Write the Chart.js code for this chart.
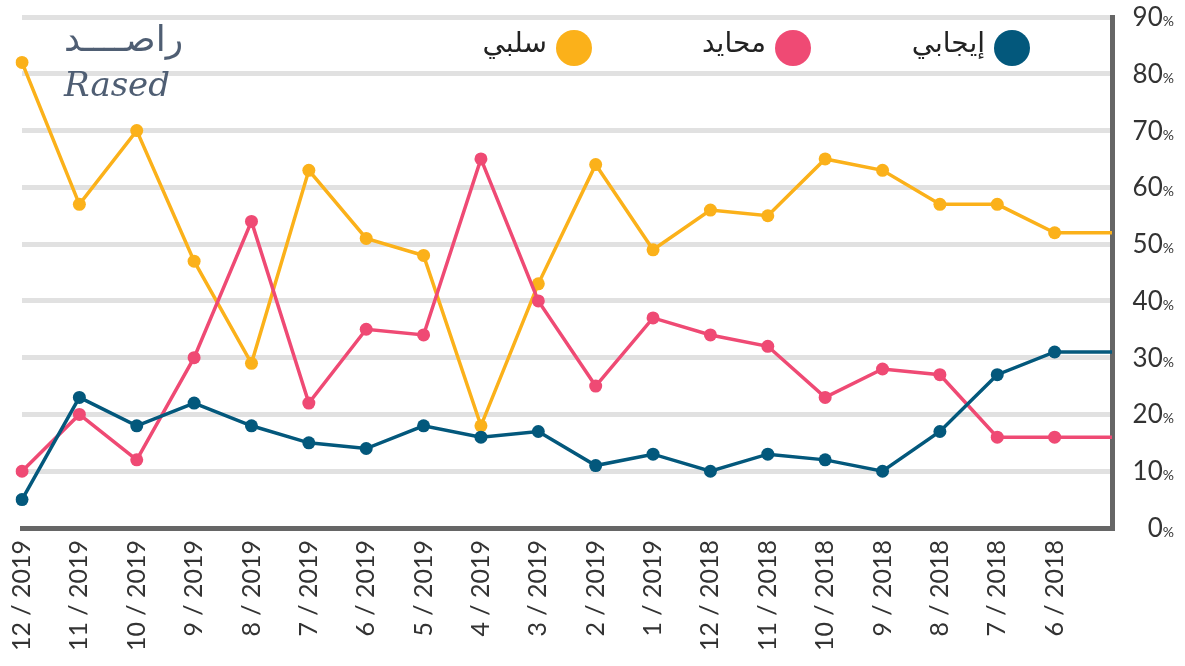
<!DOCTYPE html>
<html>
<head>
<meta charset="utf-8">
<script src="https://cdn.jsdelivr.net/npm/chart.js@4"></script>
<style>
  html, body { margin: 0; padding: 0; background: #fff; }
</style>
</head>
<body>
<canvas id="myChart" width="1185" height="666"></canvas>
<script>
// Data

const months = ["12 / 2019", "11 / 2019", "10 / 2019", "9 / 2019", "8 / 2019", "7 / 2019", "6 / 2019", "5 / 2019", "4 / 2019", "3 / 2019", "2 / 2019", "1 / 2019", "12 / 2018", "11 / 2018", "10 / 2018", "9 / 2018", "8 / 2018", "7 / 2018", "6 / 2018", ""];
const positive = [5, 23, 18, 22, 18, 15, 14, 18, 16, 17, 11, 13, 10, 13, 12, 10, 17, 27, 31, 31];
const neutral = [10, 20, 12, 30, 54, 22, 35, 34, 65, 40, 25, 37, 34, 32, 23, 28, 27, 16, 16, 16];
const negative = [82, 57, 70, 47, 29, 63, 51, 48, 18, 43, 64, 49, 56, 55, 65, 63, 57, 57, 52, 52];
const seriesNames = ["إيجابي", "محايد", "سلبي"];
const seriesColors = ["#03587C", "#EF4A74", "#FBB11A"];
const yTicks = [0, 10, 20, 30, 40, 50, 60, 70, 80, 90];

// last category only carries the line to the axis, no dot
const radii = months.map((m) => (m === "" ? 0 : 6.5));

const makeSet = (i, values) => ({
  label: seriesNames[i],
  data: values,
  borderColor: seriesColors[i],
  backgroundColor: seriesColors[i],
  borderWidth: 3.5,
  pointRadius: radii,
  pointHoverRadius: radii,
  pointBorderWidth: 0,
  tension: 0,
});

// Extra drawing: y labels with small %, legend, logo

const extras = {
  id: "extras",
  afterDraw(chart) {
    const ctx = chart.ctx;
    const yScale = chart.scales.y;
    ctx.save();

    // y tick labels
    ctx.fillStyle = "#333";
    ctx.textBaseline = "alphabetic";
    ctx.textAlign = "right";
    yTicks.forEach((v) => {
      const y = yScale.getPixelForValue(v) + 9;
      ctx.font = "14px Lato";
      const pw = ctx.measureText("%").width;
      ctx.fillText("%", 1174, y);
      ctx.font = "26px Lato";
      ctx.fillText(String(v), 1174 - pw, y);
    });

    // legend
    const legendX = [1012, 793, 574];
    chart.data.datasets.forEach((ds, i) => {
      ctx.fillStyle = ds.borderColor;
      ctx.beginPath();
      ctx.arc(legendX[i], 48, 18, 0, Math.PI * 2);
      ctx.fill();
      ctx.fillStyle = "#222";
      ctx.font = "28px 'DejaVu Sans'";
      ctx.textAlign = "right";
      ctx.textBaseline = "middle";
      ctx.fillText(ds.label, legendX[i] - 27, 45);
    });

    // logo
    ctx.fillStyle = "#4F5E73";
    ctx.textAlign = "left";
    ctx.textBaseline = "alphabetic";
    ctx.font = "36px 'DejaVu Sans'";
    ctx.fillText("راصــــد", 64, 51);
    ctx.font = "italic 34px 'DejaVu Serif'";
    ctx.fillText("Rased", 64, 96);

    ctx.restore();
  },
};

const config = {
  type: "line",
  data: {
    labels: months,
    datasets: [makeSet(0, positive), makeSet(1, neutral), makeSet(2, negative)],
  },
  options: {
    responsive: false,
    animation: false,
    devicePixelRatio: 1,
    layout: { padding: { left: 22, top: 17, right: 0, bottom: 0 } },
    plugins: { legend: { display: false }, tooltip: { enabled: false } },
    scales: {
      x: {
        offset: false,
        grid: { display: false, drawTicks: false },
        border: { display: true, color: "#666", width: 5 },
        ticks: {
          autoSkip: false,
          minRotation: 90,
          maxRotation: 90,
          padding: 12,
          color: "#333",
          font: { family: "Lato", size: 25 },
        },
        afterFit: (scale) => { scale.height = 138; },
      },
      y: {
        position: "right",
        min: 0,
        max: 90,
        ticks: { display: false, stepSize: 10 },
        grid: { color: "#E1E1E1", lineWidth: 5, drawTicks: false },
        border: { display: true, color: "#666", width: 5 },
        afterFit: (scale) => { scale.width = 73; },
      },
    },
  },
  plugins: [extras],
};

const myChart = new Chart(document.getElementById("myChart"), config);
</script>
</body>
</html>
